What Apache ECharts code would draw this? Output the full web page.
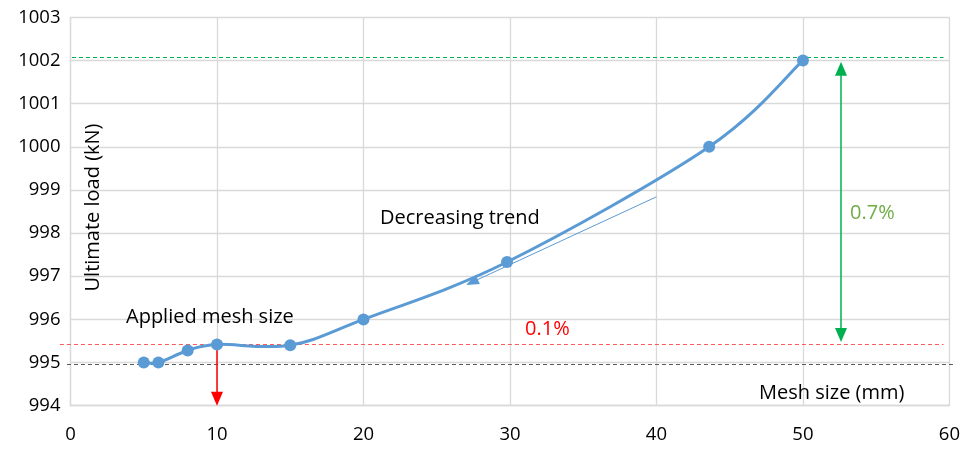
<!DOCTYPE html>
<html>
<head>
<meta charset="utf-8">
<script src="https://cdn.jsdelivr.net/npm/echarts@6/dist/echarts.min.js"></script>
<style>
  html, body { margin: 0; padding: 0; background: #fff; }
  #chart { width: 963px; height: 451px; }
</style>
</head>
<body>
<div id="chart"></div>
<script>
// Mesh convergence study: ultimate load versus mesh size
const meshSize = [5, 6, 8, 10, 15, 20, 29.8, 43.6, 50];
const ultimateLoad = [995.0, 995.0, 995.28, 995.42, 995.4, 996.0, 997.33, 1000.0, 1002.0];

const xTicks = { min: 0, max: 60, step: 10 };
const yTicks = { min: 994, max: 1003, step: 1 };

// Dashed reference levels: [value, x from, x to, colour]
const baseLevel = [994.96, -0.24, 60.24, '#595959'];
const appliedLevel = [995.42, -0.72, 59.6, '#FF5A5A'];
const topLevel = [1002.07, 0.1, 59.6, '#00B050'];

// Applied mesh size arrow (down to the axis)
const appliedMesh = 10;
const appliedArrow = [995.42, 994.16];
// Span arrow between the applied value and the coarsest value
const spanX = 52.6;
const spanArrow = [995.64, 1001.81];

// Trend arrow running down along the curve
const trendStart = [40, 998.84];
const trendEnd = [27.4, 996.86];

const LABEL_FONT = '"Open Sans"';
const BLUE = '#5B9BD5';
const GRID = '#D9D9D9';

const points = meshSize.map((m, i) => [m, ultimateLoad[i]]);

// Smoothed curve through the data points (Catmull-Rom style Bezier segments,
// built in pixel space from the axis conversion of each data point).
function renderCurve(params, api) {
  if (params.dataIndex !== 0) return null;
  const px = points.map(p => api.coord(p));
  const n = px.length;
  const path = [['M', px[0][0], px[0][1]]];
  for (let i = 0; i < n - 1; i++) {
    const p0 = px[Math.max(i - 1, 0)];
    const p1 = px[i];
    const p2 = px[i + 1];
    const p3 = px[Math.min(i + 2, n - 1)];
    const c1 = [p1[0] + (p2[0] - p0[0]) / 6, p1[1] + (p2[1] - p0[1]) / 6];
    const c2 = [p2[0] - (p3[0] - p1[0]) / 6, p2[1] - (p3[1] - p1[1]) / 6];
    path.push(['C', c1[0], c1[1], c2[0], c2[1], p2[0], p2[1]]);
  }
  const d = path.map(s => s[0] + s.slice(1).map(v => v.toFixed(2)).join(' ')).join(' ');
  return {
    type: 'path',
    shape: { pathData: d },
    style: { fill: 'none', stroke: BLUE, lineWidth: 3, lineCap: 'round', lineJoin: 'round' }
  };
}

const chart = echarts.init(document.getElementById('chart'), null, { renderer: 'canvas' });

const arrowHead = { symbol: 'triangle', symbolSize: [12, 14] };

chart.setOption({
  animation: false,
  backgroundColor: '#ffffff',
  grid: { left: 70.5, right: 13, top: 17.3, bottom: 45.3, containLabel: false },
  xAxis: {
    type: 'value',
    min: xTicks.min, max: xTicks.max, interval: xTicks.step,
    axisLine: { show: true, lineStyle: { color: GRID, width: 1.3 } },
    axisTick: { show: false },
    splitLine: { show: true, lineStyle: { color: GRID, width: 1.3 } },
    axisLabel: { color: '#000', fontFamily: LABEL_FONT, fontSize: 18.5, margin: 20 }
  },
  yAxis: {
    type: 'value',
    min: yTicks.min, max: yTicks.max, interval: yTicks.step,
    axisLine: { show: true, lineStyle: { color: GRID, width: 1.3 } },
    axisTick: { show: false },
    splitLine: { show: true, lineStyle: { color: GRID, width: 1.3 } },
    axisLabel: { color: '#000', fontFamily: LABEL_FONT, fontSize: 18.5, margin: 10,
                 formatter: v => String(v) }
  },
  series: [
    {
      // annotation arrows
      type: 'line',
      data: [],
      silent: true,
      z: 3,
      markLine: {
        silent: true,
        label: { show: false },
        animation: false,
        data: [
          [{ coord: [appliedMesh, appliedArrow[0]], symbol: 'none',
             lineStyle: { color: '#FF0000', type: 'solid', width: 1.5 } },
           Object.assign({ coord: [appliedMesh, appliedArrow[1]] }, arrowHead)],
          [Object.assign({ coord: [spanX, spanArrow[0]],
             lineStyle: { color: '#00B050', type: 'solid', width: 1.5 } }, arrowHead),
           Object.assign({ coord: [spanX, spanArrow[1]] }, arrowHead)],
          [{ coord: trendStart, symbol: 'none',
             lineStyle: { color: BLUE, type: 'solid', width: 1 } },
           { coord: trendEnd, symbol: 'triangle', symbolSize: [10, 13] }]
        ]
      }
    },
    {
      name: 'Ultimate load curve',
      type: 'custom',
      coordinateSystem: 'cartesian2d',
      data: points,
      renderItem: renderCurve,
      silent: true,
      z: 5
    },
    {
      name: 'Ultimate load',
      type: 'scatter',
      data: points,
      symbol: 'circle',
      symbolSize: 12,
      itemStyle: { color: BLUE, opacity: 1 },
      z: 6
    }
  ]
});

// Dashed levels run slightly past the plot frame, so they are placed
// as graphic lines through the chart's own coordinate conversion.
const levelLines = [baseLevel, appliedLevel, topLevel].map(([v, x0, x1, color]) => {
  const p0 = chart.convertToPixel({ gridIndex: 0 }, [x0, v]);
  const p1 = chart.convertToPixel({ gridIndex: 0 }, [x1, v]);
  const y = Math.round(p0[1] - 0.5) + 0.5;
  return {
    type: 'line', z: 4, silent: true,
    shape: { x1: p0[0], y1: y, x2: p1[0], y2: y },
    style: { stroke: color, lineWidth: 1, lineDash: [4, 3] }
  };
});

const TXT = '20px ' + LABEL_FONT;
chart.setOption({
  graphic: levelLines.concat([
    { type: 'text', left: 126, top: 307, z: 7,
      style: { text: 'Applied mesh size', font: TXT, fill: '#000' } },
    { type: 'text', left: 380, top: 208, z: 7,
      style: { text: 'Decreasing trend', font: TXT, fill: '#000' } },
    { type: 'text', left: 525, top: 319, z: 7,
      style: { text: '0.1%', font: TXT, fill: '#FF0000' } },
    { type: 'text', left: 850, top: 203, z: 7,
      style: { text: '0.7%', font: TXT, fill: '#70AD47' } },
    { type: 'text', left: 759, top: 383, z: 7,
      style: { text: 'Mesh size (mm)', font: TXT, fill: '#000' } },
    { type: 'text', x: 93, y: 207.5, rotation: Math.PI / 2, z: 7,
      style: { text: 'Ultimate load (kN)', font: TXT, fill: '#000',
               align: 'center', verticalAlign: 'middle' } }
  ])
});
</script>
</body>
</html>
